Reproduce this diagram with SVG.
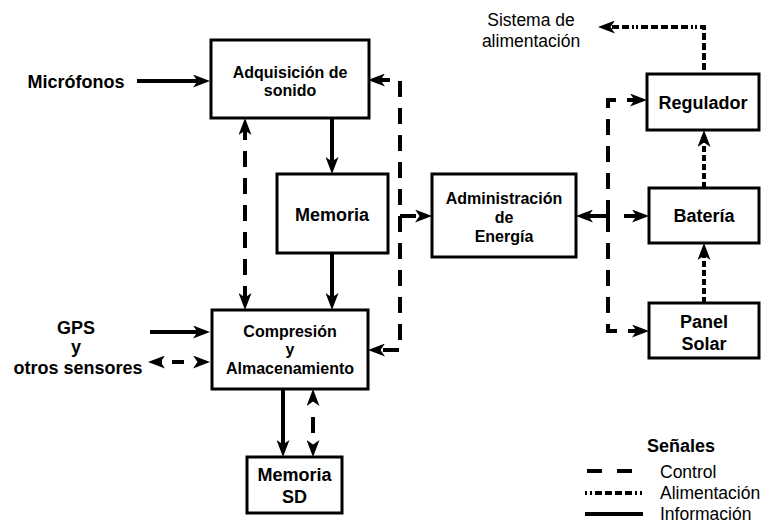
<svg xmlns="http://www.w3.org/2000/svg" width="764" height="523" viewBox="0 0 764 523">
<style>
.box{fill:#fff;stroke:#000;stroke-width:3}
.ln{fill:none;stroke:#000;stroke-width:4}
.ctrl{stroke-dasharray:16 11}
.pow{stroke-dasharray:6 3}
.powl{stroke-dasharray:2 3 2 3 7 3 7 3 7 3 7 3 2 3 2 3 2}
.powt{stroke-dasharray:7 3 7 3 7 3 7 3 7 3 2 2 2 3}
text{font-family:"Liberation Sans",Arial,sans-serif;fill:#000}
.b16{font-size:16px;font-weight:bold;text-anchor:middle}
.b18{font-size:18px;font-weight:bold;text-anchor:middle}
.n{font-size:17.5px}
</style>
<defs>
<marker id="ah" markerUnits="userSpaceOnUse" markerWidth="17" markerHeight="13" refX="11" refY="6.5" orient="auto-start-reverse">
<path d="M0,0 L17,6.5 L0,13 L4.5,6.5 Z" fill="#000"/>
</marker>
</defs>
<g id="connectors">
<path class="ln" d="M137,81 H204" marker-end="url(#ah)"/>
<path class="ln" d="M332,118 V168" marker-end="url(#ah)"/>
<path class="ln" d="M332,253 V304" marker-end="url(#ah)"/>
<path class="ln ctrl" d="M245,124 V304" marker-start="url(#ah)" marker-end="url(#ah)"/>
<path class="ln" d="M150,332 H204" marker-end="url(#ah)"/>
<path class="ln ctrl" d="M154,362 H204" marker-start="url(#ah)" marker-end="url(#ah)" style="stroke-dasharray:8 10 12 30"/>
<path class="ln" d="M283,389 V451" marker-end="url(#ah)"/>
<path class="ln ctrl" d="M313,395 V451" marker-start="url(#ah)" marker-end="url(#ah)" style="stroke-dasharray:6 16 16 20"/>
<path class="ln ctrl" d="M374,80 H400 V350 H374" marker-start="url(#ah)" marker-end="url(#ah)"/>
<path class="ln ctrl" d="M400,216 H426" marker-end="url(#ah)"/>
<path class="ln" d="M608,216 H582" marker-end="url(#ah)"/>
<path class="ln ctrl" d="M624,216 H643" marker-end="url(#ah)"/>
<path class="ln ctrl" d="M608,216 V100 H641" marker-end="url(#ah)"/>
<path class="ln ctrl" d="M608,216 V331 H643" marker-end="url(#ah)"/>
<path class="ln pow" d="M704,303 V249" marker-end="url(#ah)"/>
<path class="ln pow" d="M704,188 V136" marker-end="url(#ah)"/>
<path class="ln powt" d="M704,70 V27 H604" marker-end="url(#ah)"/>
</g>
<g id="microfonos"><text class="b18" x="76" y="88">Micrófonos</text></g>
<g id="adquisicion">
<rect class="box" x="211" y="40" width="158" height="78"/>
<text class="b16" x="290" y="78">Adquisición de</text>
<text class="b16" x="290" y="96">sonido</text>
</g>
<g id="memoria">
<rect class="box" x="277" y="174" width="111" height="79"/>
<text class="b18" x="332" y="221">Memoria</text>
</g>
<g id="compresion">
<rect class="box" x="212" y="310" width="156" height="79"/>
<text class="b16" x="290" y="337">Compresión</text>
<text class="b16" x="290" y="355">y</text>
<text class="b16" x="290" y="374">Almacenamiento</text>
</g>
<g id="gps">
<text class="b18" x="76" y="334">GPS</text>
<text class="b18" x="76" y="353">y</text>
<text class="b18" x="78" y="374">otros sensores</text>
</g>
<g id="memoriasd">
<rect class="box" x="247" y="457" width="95" height="56"/>
<text class="b18" x="294.5" y="481">Memoria</text>
<text class="b18" x="294.5" y="503">SD</text>
</g>
<g id="administracion">
<rect class="box" x="432" y="174" width="144" height="83"/>
<text class="b16" x="504" y="204">Administración</text>
<text class="b16" x="504" y="223">de</text>
<text class="b16" x="504" y="242">Energía</text>
</g>
<g id="regulador">
<rect class="box" x="647" y="74" width="112" height="56"/>
<text class="b18" x="703" y="109">Regulador</text>
</g>
<g id="bateria">
<rect class="box" x="649" y="188" width="110" height="55"/>
<text class="b18" x="704" y="222">Batería</text>
</g>
<g id="panel">
<rect class="box" x="649" y="303" width="110" height="55"/>
<text class="b18" x="704" y="328">Panel</text>
<text class="b18" x="704" y="350">Solar</text>
</g>
<g id="sistema">
<text class="n" x="531" y="26" text-anchor="middle">Sistema de</text>
<text class="n" x="531" y="47" text-anchor="middle">alimentación</text>
</g>
<g id="legend">
<text class="b18" x="681" y="452">Señales</text>
<path class="ln" d="M587,471 H602 M617,471 H632"/>
<path class="ln powl" d="M585,493 H643"/>
<path class="ln" d="M585,514 H643"/>
<text class="n" x="660" y="478">Control</text>
<text class="n" x="660" y="499">Alimentación</text>
<text class="n" x="660" y="520">Información</text>
</g>
</svg>
